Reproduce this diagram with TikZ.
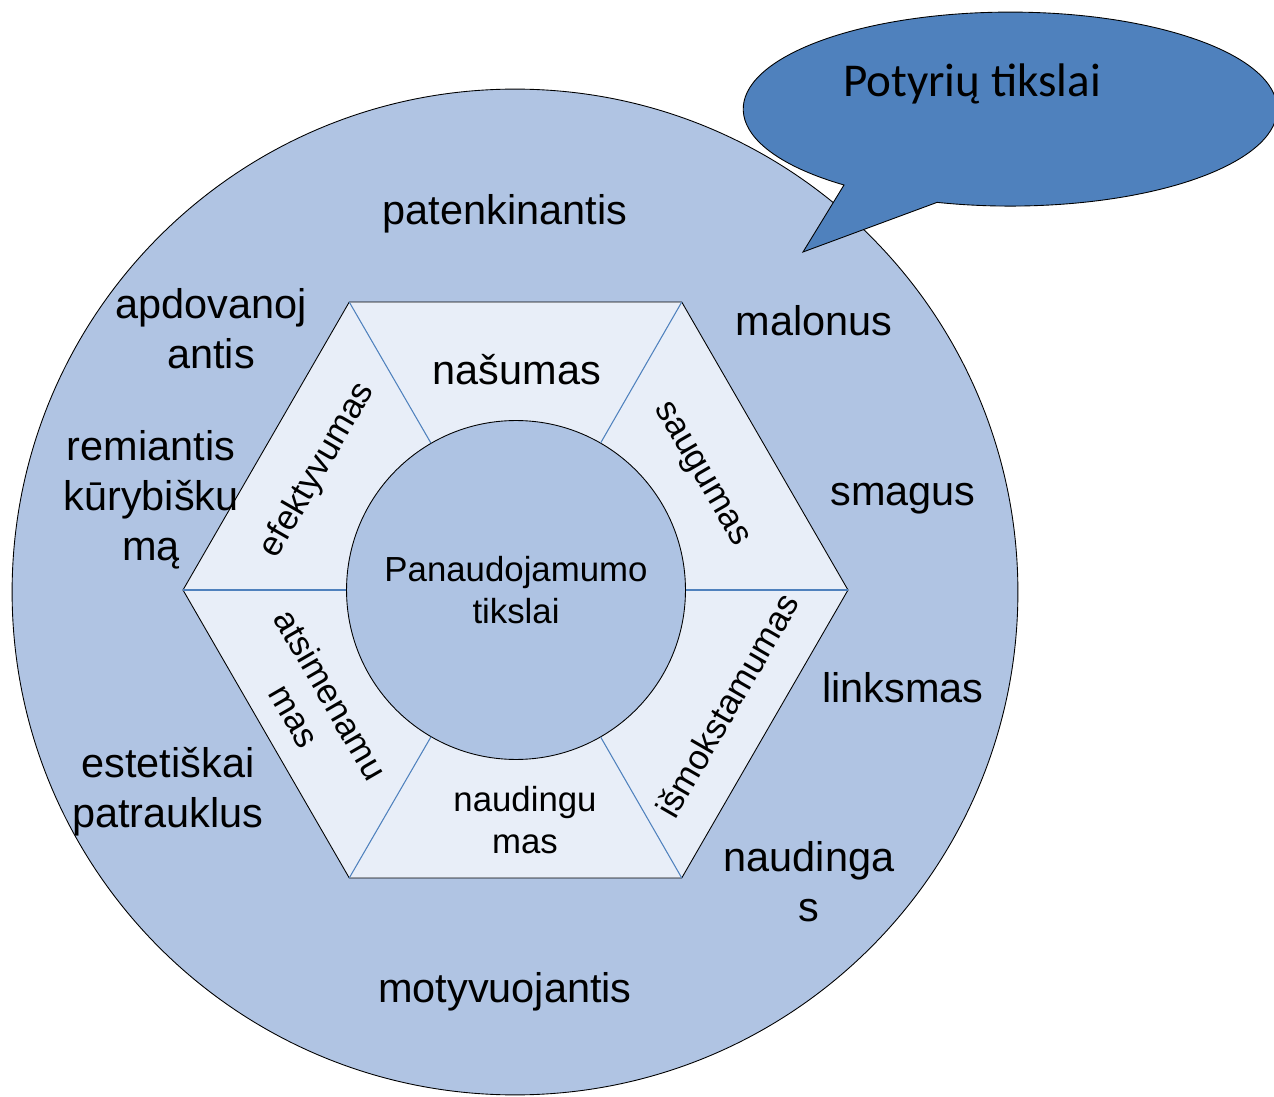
\documentclass[tikz,border=0pt]{standalone}
\usepackage{fontspec}
\setmainfont{Liberation Sans}
\newfontfamily\bubblefont{Carlito}
\usepackage{tikz}
\usetikzlibrary{calc}
\definecolor{outerblue}{HTML}{B0C4E3}
\definecolor{hexpale}{HTML}{E8EEF8}
\definecolor{coreblue}{HTML}{AEC3E3}
\definecolor{bubble}{HTML}{4F81BD}
\tikzset{big/.style={font=\fontsize{23.6}{28.3}\selectfont,align=center,inner sep=0pt},small/.style={font=\fontsize{19.8}{23.8}\selectfont,align=center,inner sep=0pt},edge/.style={draw=black,line width=0.5pt}}

\begin{document}
\begin{tikzpicture}[x=0.02cm,y=-0.02cm,spk/.style={draw=bubble,line width=0.6pt}]
\useasboundingbox (0,0) rectangle (1274,1097);
\node[circle,edge,fill=outerblue,minimum size=20.12cm,inner sep=0pt] (ring) at (515,592) {};
\coordinate (c) at (515.5,590);
\foreach \a/\id in {0/e,60/se,120/sw,180/w,240/nw,300/ne} \coordinate (h\id) at ($(c)+(\a:332.5)$);
\draw[edge,fill=hexpale] (he)--(hse)--(hsw)--(hw)--(hnw)--(hne)--cycle;
\node[circle,edge,fill=coreblue,minimum size=6.78cm,inner sep=0pt,small] (core) at (516,590) {Panaudojamumo\\tikslai};
\foreach \id in {e,se,sw,w,nw,ne} \draw[spk] (h\id)--(core);
% outer ring words
\foreach \x/\y/\id/\txt in {505/214/pat/patenkinantis,211/329/apd/{apdovanoj\\antis},151/500/rem/{remiantis\\kūrybišku\\mą},168/792/est/{estetiškai\\patrauklus},814/321/mal/malonus,903/499/sma/smagus,903/688/lin/linksmas,809/882/nau/{naudinga\\s},505/992/mot/motyvuojantis}
  \node[big] (\id) at (\x,\y) {\txt};
% hexagon words
\node[big] (nas) at (517,370) {našumas};
\node[small] (nud) at (525,820) {naudingu\\mas};
\node[small,rotate=60] (efk) at (318,470) {efektyvumas};
\node[small,rotate=-60] (sau) at (700,475) {saugumas};
\node[small,rotate=60] (ism) at (727,705) {išmokstamumas};
\node[small,rotate=-60] (ats) at (313,705) {atsimenamu\\mas};
% speech bubble
\draw[edge,fill=bubble] (803,252)--(844,185) arc[start angle=128.5,end angle=465.9,x radius=267,y radius=97]--cycle;
\node[font=\bubblefont\fontsize{26.8}{32}\selectfont,inner sep=0pt] (pot) at (972,84) {Potyrių tikslai};
\end{tikzpicture}
\end{document}
